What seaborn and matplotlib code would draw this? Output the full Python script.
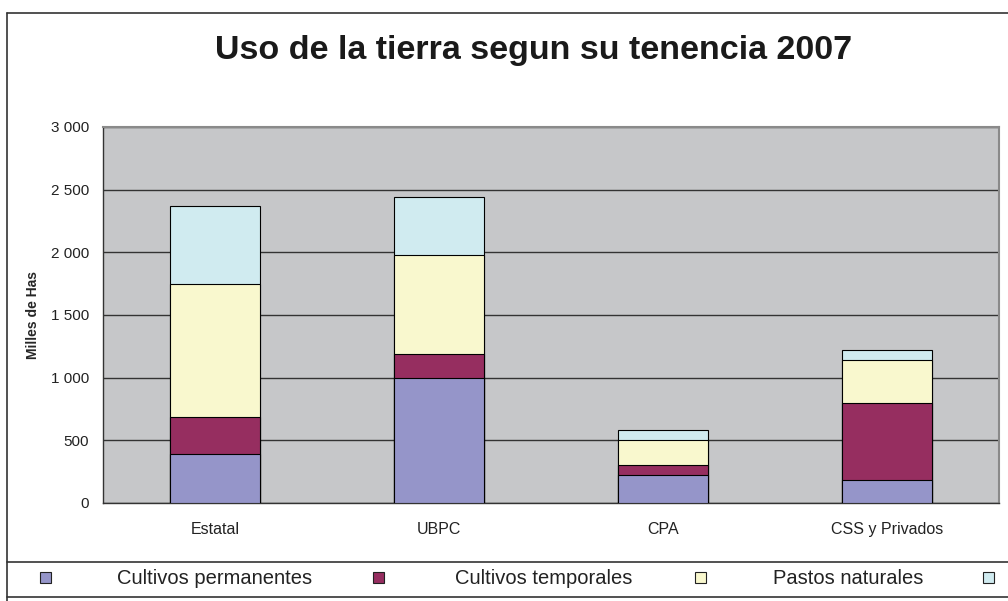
import pandas as pd
import matplotlib.pyplot as plt
import seaborn as sns
from matplotlib.lines import Line2D
from matplotlib.patches import Rectangle
from matplotlib.ticker import FuncFormatter, FixedLocator

# Data (miles de hectareas)
tenencia = ['Estatal', 'UBPC', 'CPA', 'CSS y Privados']
cultivos_permanentes = [390, 1000, 220, 180]
cultivos_temporales = [300, 190, 85, 615]
pastos_naturales = [1060, 790, 200, 345]
otros = [620, 465, 80, 80]

series_names = ['Cultivos permanentes', 'Cultivos temporales', 'Pastos naturales', 'Otros']
series_colors = ['#9595C9', '#962E60', '#F9F8CE', '#D0EBF0']

df = pd.DataFrame({
    'Tenencia': tenencia,
    series_names[0]: cultivos_permanentes,
    series_names[1]: cultivos_temporales,
    series_names[2]: pastos_naturales,
    series_names[3]: otros,
})
# cumulative sums so the layers can be drawn back to front
cum = df[series_names].cumsum(axis=1)
cum['Tenencia'] = df['Tenencia']

sns.set_style('white')
plt.rcParams['font.family'] = ['Liberation Sans', 'DejaVu Sans']

W, H = 1008, 601
fig = plt.figure(figsize=(W / 100, H / 100), dpi=100)
ax = fig.add_axes([103 / W, 1 - 503 / H, (999 - 103) / W, (503 - 127) / H])
ax.set_facecolor('#C6C7C9')

for name, color in reversed(list(zip(series_names, series_colors))):
    sns.barplot(data=cum, x='Tenencia', y=name, color=color, width=0.4, saturation=1,
                edgecolor='black', linewidth=0.8, errorbar=None, ax=ax, zorder=3)

ax.set_ylim(0, 3000)
ax.set_xlim(-0.5, 3.5)
ax.set_yticks(range(0, 3001, 500))
ax.yaxis.set_major_formatter(FuncFormatter(lambda v, p: f"{int(v):,}".replace(",", " ")))
ax.grid(axis='y', color='#333333', linewidth=1.0, zorder=1)
ax.set_axisbelow(True)
ax.xaxis.set_minor_locator(FixedLocator([-0.5, 0.5, 1.5, 2.5, 3.5]))
ax.tick_params(axis='x', which='major', length=0, pad=14, labelsize=11.5, colors='#222222')
ax.tick_params(axis='x', which='minor', length=5, width=1, direction='out', color='#333333')
ax.tick_params(axis='y', length=5, width=1, direction='out', color='#333333', labelsize=11,
               labelcolor='#222222', pad=5)
ax.set_xlabel('')
ax.set_ylabel('Milles de Has', fontsize=10, fontweight='bold', labelpad=8)
for side in ['left', 'bottom']:
    ax.spines[side].set_color('#333333')
    ax.spines[side].set_linewidth(1.0)
for side in ['top', 'right']:
    ax.spines[side].set_color('#8A8A8A')
    ax.spines[side].set_linewidth(1.5)

fig.text(534 / W, 1 - 50 / H, 'Uso de la tierra segun su tenencia 2007',
         ha='center', va='center', fontsize=24.5, fontweight='bold', color='#1a1a1a')

# chart frame
fig.add_artist(Line2D([7 / W, 1], [1 - 13 / H, 1 - 13 / H], color='#333333', linewidth=1.2))
fig.add_artist(Line2D([7 / W, 7 / W], [0, 1 - 13 / H], color='#333333', linewidth=1.2))

# legend row along the bottom (the fourth label falls past the right edge)
fig.add_artist(Line2D([7 / W, 1], [1 - 562 / H, 1 - 562 / H], color='#333333', linewidth=1.2))
fig.add_artist(Line2D([7 / W, 1], [1 - 597 / H, 1 - 597 / H], color='#333333', linewidth=1.2))
marker_x = [45, 378, 700, 988]
text_x = [215, 544, 848]
for i, (name, color, mx) in enumerate(zip(series_names, series_colors, marker_x)):
    fig.add_artist(Rectangle(((mx - 5.5) / W, 1 - 583 / H), 11 / W, 11 / H,
                             facecolor=color, edgecolor='#222222', linewidth=0.8))
    if i < len(text_x):
        fig.text(text_x[i] / W, 1 - 578 / H, name, ha='center', va='center',
                 fontsize=14.5, color='#222222')

fig.savefig('out.png', dpi=100)
